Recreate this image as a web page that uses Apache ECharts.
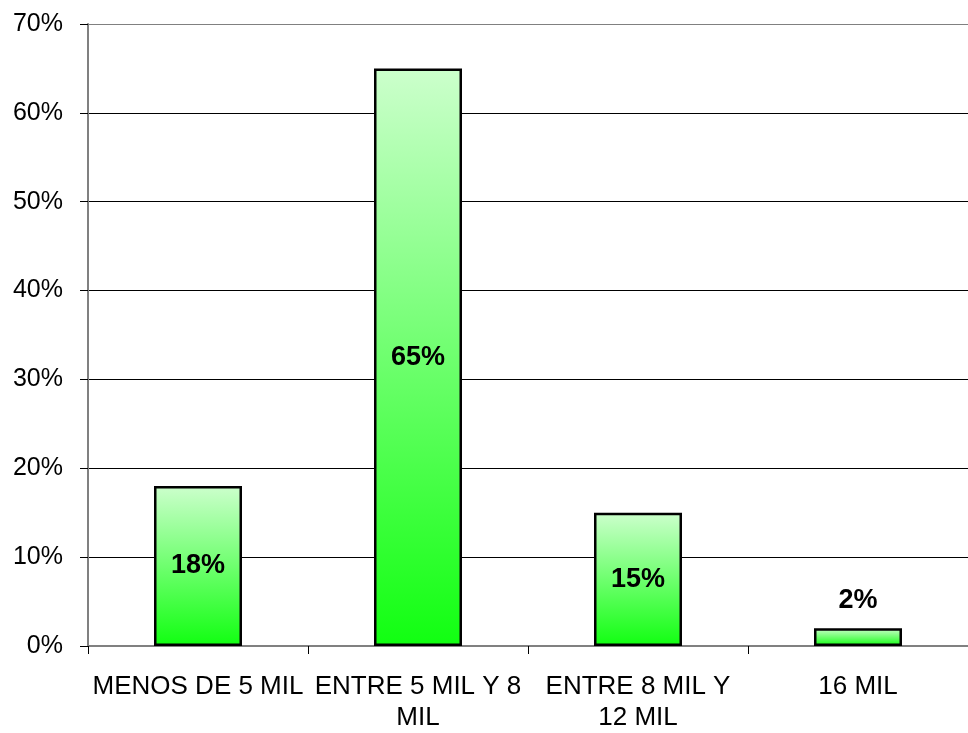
<!DOCTYPE html>
<html>
<head>
<meta charset="utf-8">
<script src="https://cdn.jsdelivr.net/npm/echarts@6/dist/echarts.min.js"></script>
<style>html,body{margin:0;padding:0;background:#fff;overflow:hidden;width:100%;height:100%;}#c{width:100vw;height:100vh;}</style>
</head>
<body>
<div id="c"></div>
<script>
const categories = ['MENOS DE 5 MIL', 'ENTRE 5 MIL Y 8\nMIL', 'ENTRE 8 MIL Y\n12 MIL', '16 MIL'];
const values = [18, 65, 15, 2];
const labelPositions = ['inside', 'inside', 'inside', 'top'];
const yTicks = [0, 10, 20, 30, 40, 50, 60, 70];

const el = document.getElementById('c');
const chart = echarts.init(el, null, {renderer: 'canvas'});
const W = el.clientWidth, H = el.clientHeight;
const font = 'Arial, "Liberation Sans", sans-serif';
chart.setOption({
  animation: false,
  backgroundColor: '#ffffff',
  grid: {left: (88 / 968 * 100) + '%', top: (24 / 733 * 100) + '%', width: (889 / 968 * 100) + '%', height: (627 / 733 * 100) + '%', containLabel: false},
  xAxis: {
    type: 'category',
    data: categories,
    boundaryGap: true,
    axisLine: {show: true, lineStyle: {color: '#808080', width: 2}},
    axisTick: {show: true, length: 8, alignWithLabel: false, lineStyle: {color: '#000', width: 1}},
    axisLabel: {color: '#000', fontFamily: font, fontSize: 26, lineHeight: 31, margin: 25, interval: 0}
  },
  yAxis: {
    type: 'value',
    min: yTicks[0],
    max: yTicks[yTicks.length - 1],
    interval: 10,
    axisLine: {show: true, lineStyle: {color: '#808080', width: 2}},
    axisTick: {show: true, length: 8, lineStyle: {color: '#000', width: 1}},
    axisLabel: {color: '#000', fontFamily: font, fontSize: 25, margin: 25, formatter: '{value}%'},
    splitLine: {show: true, lineStyle: {color: ['#808080', '#000', '#000', '#000', '#000', '#000', '#000', '#808080'], width: 1}}
  },
  series: [{
    type: 'bar',
    barWidth: '40%',
    data: values.map((v, i) => ({value: v, label: {position: labelPositions[i]}})),
    itemStyle: {
      color: new echarts.graphic.LinearGradient(0, 0, 0, 1, [
        {offset: 0, color: '#ccffcc'},
        {offset: 1, color: '#11ff11'}
      ]),
      borderColor: '#000',
      borderWidth: 2.5
    },
    label: {
      show: true,
      formatter: '{c}%',
      color: '#000',
      fontFamily: font,
      fontWeight: 'bold',
      fontSize: 27,
      distance: 14
    }
  }]
});
</script>
</body>
</html>
